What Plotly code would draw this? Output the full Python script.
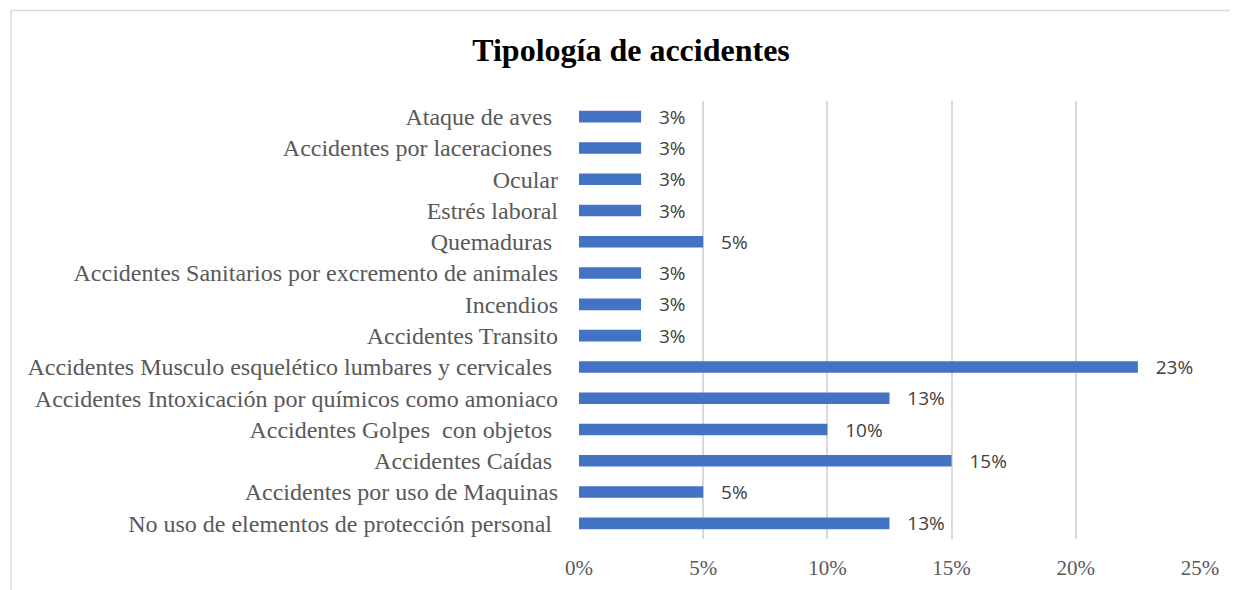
import plotly.graph_objects as go

categories = [
    "No uso de elementos de protección personal ",
    "Accidentes por uso de Maquinas",
    "Accidentes Caídas ",
    "Accidentes Golpes  con objetos ",
    "Accidentes Intoxicación por químicos como amoniaco",
    "Accidentes Musculo esquelético lumbares y cervicales ",
    "Accidentes Transito",
    "Incendios",
    "Accidentes Sanitarios por excremento de animales",
    "Quemaduras ",
    "Estrés laboral",
    "Ocular",
    "Accidentes por laceraciones ",
    "Ataque de aves ",
]
values = [0.125, 0.05, 0.15, 0.10, 0.125, 0.225, 0.025, 0.025, 0.025, 0.05, 0.025, 0.025, 0.025, 0.025]
value_labels = ["13%", "5%", "15%", "10%", "13%", "23%", "3%", "3%", "3%", "5%", "3%", "3%", "3%", "3%"]
x_ticks = [0, 0.05, 0.10, 0.15, 0.20, 0.25]
x_tick_labels = ["0%", "5%", "10%", "15%", "20%", "25%"]

cat_display = [c.replace("  ", "\u00a0 ").rstrip() + ("\u00a0" if c.endswith(" ") else "") for c in categories]

fig = go.Figure()
fig.add_trace(go.Bar(
    x=values,
    y=cat_display,
    orientation="h",
    marker=dict(color="#4472C4", line=dict(width=0)),
    width=0.37,
    text=["\u00a0\u00a0\u00a0" + t for t in value_labels],
    textposition="outside",
    constraintext="none",
    textfont=dict(family="Open Sans", size=19, color="#404040"),
    cliponaxis=False,
    hoverinfo="skip",
))

OFF = 8  # page body margin
L, R, T, B = 579 - OFF, 1200 - OFF, 101.4 - OFF, 538.6 - OFF
W, H = 1238 - OFF, 590 - OFF
pw, ph = R - L, B - T

fig.update_layout(
    width=W, height=H,
    margin=dict(l=L, r=W - R, t=T, b=H - B, pad=0, autoexpand=False),
    paper_bgcolor="white",
    plot_bgcolor="white",
    showlegend=False,
    title=dict(
        text="<b>Tipología de accidentes</b>",
        x=(631 - OFF) / W, xanchor="center",
        y=1 - (50 - OFF) / H, yanchor="middle",
        font=dict(family="Liberation Serif", size=32, color="black"),
    ),
    xaxis=dict(
        range=[0, 0.25],
        tickvals=x_ticks,
        ticktext=x_tick_labels,
        showgrid=True,
        gridcolor="#d9d9d9",
        gridwidth=1.5,
        zeroline=False,
        showline=False,
        ticks="",
        automargin=False,
        ticklabelstandoff=14,
        tickfont=dict(family="Liberation Serif", size=21, color="#595959"),
    ),
    yaxis=dict(
        showgrid=False,
        zeroline=False,
        showline=False,
        ticks="",
        automargin=False,
        ticklabelstandoff=20,
        tickfont=dict(family="Liberation Serif", size=24, color="#595959"),
        range=[-0.5, len(categories) - 0.5],
    ),
    shapes=[
        dict(type="line", xref="paper", yref="paper",
             x0=(11 - OFF - L) / pw, x1=(11 - OFF - L) / pw,
             y0=(B - (11 - OFF)) / ph, y1=(B - 600) / ph,
             line=dict(color="#d9d9d9", width=1.5)),
        dict(type="line", xref="paper", yref="paper",
             x0=(11 - OFF - L) / pw, x1=(1245 - L) / pw,
             y0=(B - (11 - OFF)) / ph, y1=(B - (11 - OFF)) / ph,
             line=dict(color="#d9d9d9", width=1.5)),
    ],
)

fig.write_html("out.html")
